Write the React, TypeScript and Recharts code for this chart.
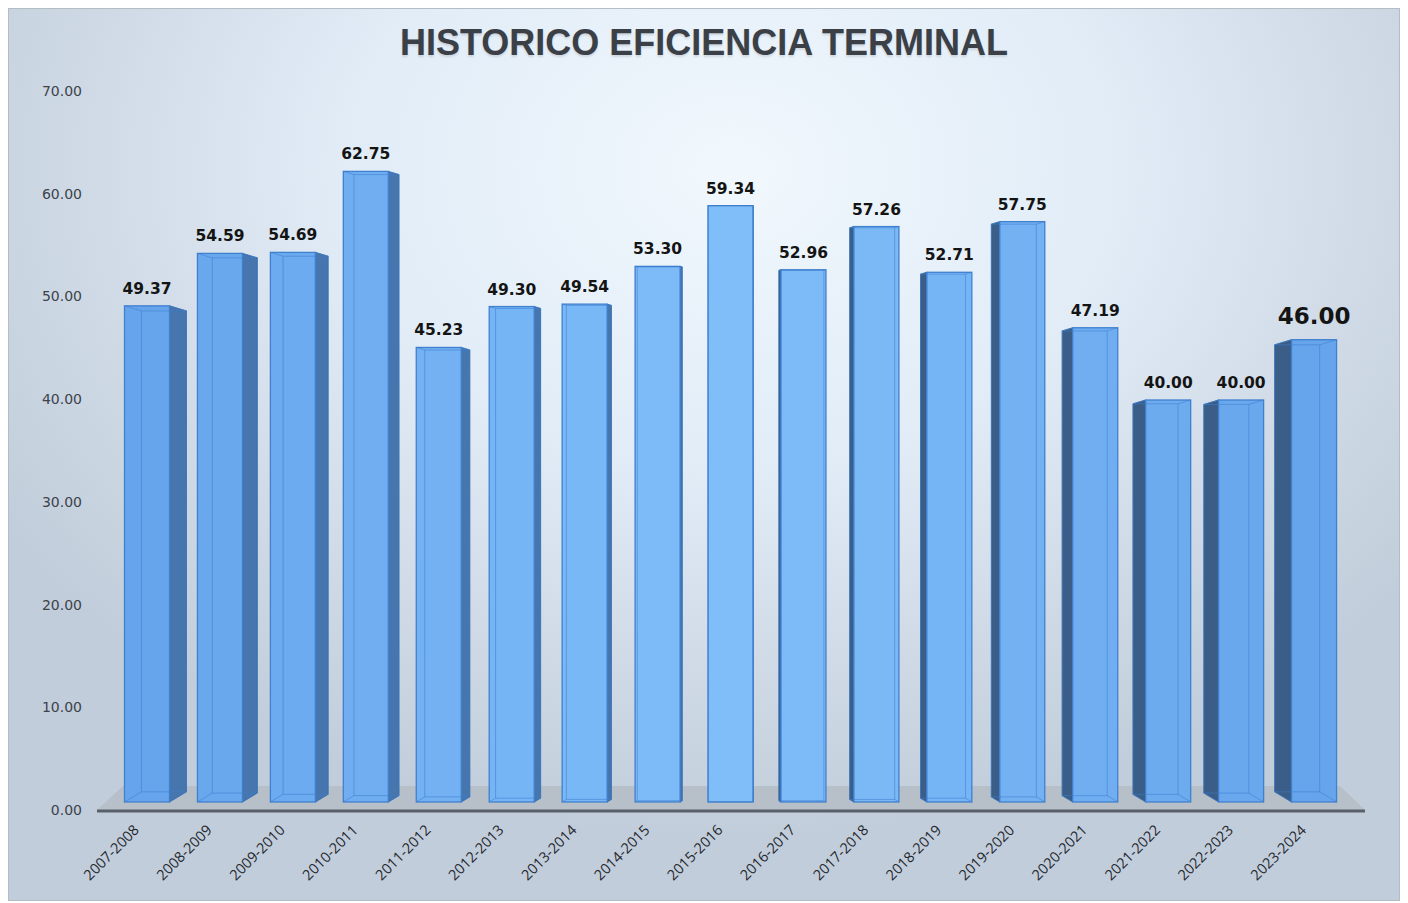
import { Bar, BarChart, LabelList, ReferenceArea, XAxis, YAxis } from 'recharts'

const periods = [
  '2007-2008', '2008-2009', '2009-2010', '2010-2011', '2011-2012', '2012-2013',
  '2013-2014', '2014-2015', '2015-2016', '2016-2017', '2017-2018', '2018-2019',
  '2019-2020', '2020-2021', '2021-2022', '2022-2023', '2023-2024',
]
const efficiency = [
  49.37, 54.59, 54.69, 62.75, 45.23, 49.3, 49.54, 53.3, 59.34, 52.96, 57.26, 52.71,
  57.75, 47.19, 40.0, 40.0, 46.0,
]
const yTicks = [0, 10, 20, 30, 40, 50, 60, 70]

const data = periods.map((period, i) => ({ period, value: efficiency[i] }))

const W = 1392
const H = 893
const VANISH_X = 722.5
const DEPTH_K = 0.029

function lerpColor(a: number[], b: number[], t: number) {
  const c = a.map((v, i) => Math.round(v + (b[i] - v) * t))
  return `rgb(${c[0]},${c[1]},${c[2]})`
}

function Bar3D(props: any) {
  const { x, y, width, height } = props
  if (height == null || height <= 0) return null
  const cx = x + width / 2
  const d = (VANISH_X - cx) * DEPTH_K
  const ad = Math.abs(d)
  const ty = ad * 0.3
  const by = ad * 0.6
  const t = Math.max(0, 1 - Math.abs(cx - VANISH_X) / 650)
  const front = lerpColor([99, 162, 234], [128, 190, 250], t)
  const side = d > 0 ? '#4676ad' : '#3a5e88'
  const edge = d > 0 ? x + width : x
  const sidePts = `${edge},${y} ${edge + d},${y + ty} ${edge + d},${y + height - by} ${edge},${y + height}`
  const bx = x + d
  const inner = 'rgba(62,126,205,0.55)'
  return (
    <g>
      <polygon points={sidePts} fill={side} stroke="#35649a" strokeWidth={0.8} />
      <rect x={x} y={y} width={width} height={height} fill={front} stroke="#3f80cf" strokeWidth={1.3} />
      <rect
        x={bx}
        y={y + ty}
        width={width}
        height={Math.max(0, height - ty - by)}
        fill="none"
        stroke={inner}
        strokeWidth={1}
      />
      <line x1={x} y1={y} x2={bx} y2={y + ty} stroke={inner} />
      <line x1={x} y1={y + height} x2={bx} y2={y + height - by} stroke={inner} />
      <line x1={x + width} y1={y} x2={bx + width} y2={y + ty} stroke={inner} />
      <line x1={x + width} y1={y + height} x2={bx + width} y2={y + height - by} stroke={inner} />
    </g>
  )
}

function Floor(props: any) {
  const { x, y, width, height } = props
  const pts = `${x - 13.5},${y + height} ${x + 12.5},${y} ${x + width - 10.5},${y} ${x + width + 14.5},${y + height}`
  return (
    <g>
      <polygon points={pts} fill="#b7bfc9" />
      <line
        x1={x - 13.5}
        y1={y + height + 1}
        x2={x + width + 14.5}
        y2={y + height + 1}
        stroke="#596069"
        strokeWidth={3}
      />
    </g>
  )
}

function PeriodTick(props: any) {
  const { x, y, payload } = props
  const tx = x - 7
  const ty = y + 13
  return (
    <text
      x={tx}
      y={ty}
      transform={`rotate(-45, ${tx}, ${ty})`}
      textAnchor="end"
      fontFamily="'Open Sans', sans-serif"
      fontSize={14.5}
      fill="#24282d"
    >
      {payload.value}
    </text>
  )
}

function ValueTick(props: any) {
  const { y, payload } = props
  return (
    <text
      x={73}
      y={y}
      dy={5}
      textAnchor="end"
      fontFamily="'DejaVu Sans', Verdana, sans-serif"
      fontSize={14}
      fill="#3c434b"
    >
      {Number(payload.value).toFixed(2)}
    </text>
  )
}

function ValueLabel(props: any) {
  const { x, y, width, value, index } = props
  const last = index === efficiency.length - 1
  return (
    <text
      x={x + width / 2}
      y={y - (last ? 16 : 12)}
      textAnchor="middle"
      fontFamily="'DejaVu Sans', Verdana, sans-serif"
      fontWeight="bold"
      fontSize={last ? 23 : 15.5}
      fill="#141414"
    >
      {Number(value).toFixed(2)}
    </text>
  )
}

export default function App() {
  return (
    <div
      style={{
        position: 'relative',
        width: W,
        height: H,
        boxSizing: 'border-box',
        border: '1px solid #b4bcc4',
        background:
          'radial-gradient(ellipse 62% 75% at 52% 18%, #f1f8fd 0%, #e1ecf7 45%, #cfdae6 75%, #c2cddb 100%)',
      }}
    >
      <div
        style={{
          position: 'absolute',
          top: 13,
          left: 0,
          width: '100%',
          textAlign: 'center',
          fontFamily: "'Liberation Sans', Arial, sans-serif",
          fontWeight: 'bold',
          fontSize: 36,
          color: '#3b4047',
          textShadow: '0 2px 2px rgba(60,70,80,0.15)',
        }}
      >
        HISTORICO EFICIENCIA TERMINAL
      </div>
      <BarChart
        width={W - 2}
        height={H - 2}
        data={data}
        margin={{ top: 82, right: 48.5, bottom: 10, left: 41.5 }}
        style={{ position: 'absolute', top: 0, left: 0 }}
      >
        <XAxis
          dataKey="period"
          height={80}
          axisLine={false}
          tickLine={false}
          interval={0}
          tick={<PeriodTick />}
        />
        <YAxis
          yAxisId="left"
          width={60}
          type="number"
          domain={[0, 70]}
          ticks={yTicks}
          allowDataOverflow
          axisLine={false}
          tickLine={false}
          tick={<ValueTick />}
        />
        <YAxis yAxisId="bars" hide domain={[-0.8, 70.75]} allowDataOverflow />
        <ReferenceArea yAxisId="bars" y1={-0.8} y2={1.6} ifOverflow="visible" shape={<Floor />} />
        <Bar yAxisId="bars" dataKey="value" barSize={45} shape={<Bar3D />} isAnimationActive={false}>
          <LabelList dataKey="value" content={<ValueLabel />} />
        </Bar>
      </BarChart>
    </div>
  )
}
